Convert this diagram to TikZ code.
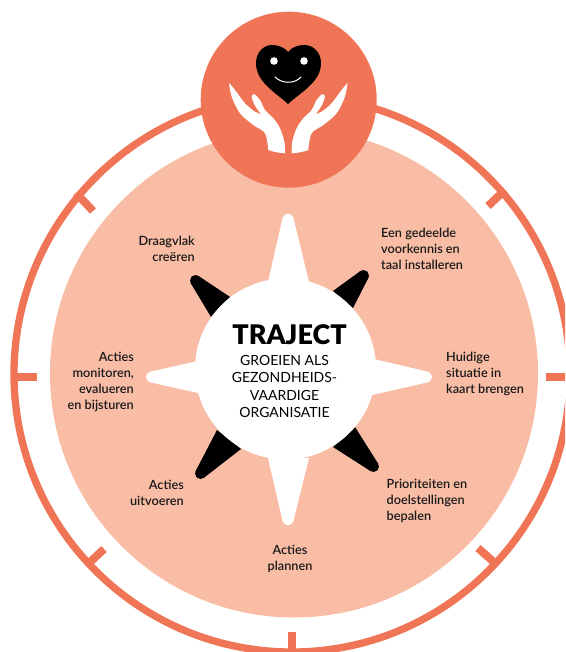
\documentclass[tikz,border=0pt]{standalone}
\usepackage{fontspec}
\usetikzlibrary{calc}
\setmainfont{Lato}[BoldFont=* Semibold]
\newfontfamily\heavyfont{Lato Black}
\definecolor{coral}{HTML}{F07556}
\definecolor{peach}{HTML}{F9BDA6}
\newcommand{\spikeshape}[5]{% colour, tip, base1, base2, tip radius
  \fill[#1] (#2) circle[radius=#5pt];
  \fill[#1] (#3) -- ($(#2)!#5pt!90:(#3)$) -- ($(#2)!#5pt!-90:(#4)$) -- (#4) -- cycle;
}
\tikzset{
  ringline/.style={coral,line width=7.3pt},
  tick/.style={coral,line width=8pt},
  lbl/.style={inner sep=0pt,font=\fontsize{12.7pt}{16pt}\selectfont\bfseries,text=black!90},
  lblL/.style={lbl,anchor=west,align=left},
  lblR/.style={lbl,anchor=east,align=right},
  lblC/.style={lbl,anchor=center,align=center},
  hand/.style={white}
}
\newcommand{\handshape}{%
  \fill[hand] plot[smooth,tension=.55] coordinates {(229,83) (231.7,96.7) (240,113.3) (253.3,125) (265,133.3) (268.3,150)}
    .. controls (273,151.8) and (279,153) .. (285,153.3)
    -- plot[smooth,tension=.55] coordinates {(285,153.3) (284.3,141.7) (280,128.3) (273.3,118.3) (265,110) (260,100) (254.3,94.3) (251.7,96.7) (255,105.7) (261,114)}
    -- plot[smooth,tension=.55] coordinates {(261,114) (255,111.7) (245,103.3) (235,90) (229,83)} -- cycle;
}
\begin{document}
\begin{tikzpicture}[x=1pt,y=-1pt]
\useasboundingbox (0,0) rectangle (565,652);
\clip (0,0) rectangle (565,652);
% outer ring and ticks
\coordinate (ringc) at (292,374);
\draw[ringline] (ringc) circle[radius=278pt];
\draw[tick] (12,376.5) -- (37,376.5);
\draw[tick] (546,376.5) -- (570,376.5);
\draw[tick] (292,632) -- (292,650);
\draw[tick] (76,193) -- (93,211);
\draw[tick] (505,190) -- (488,206);
\draw[tick] (88,564) -- (104,549);
\draw[tick] (497,565) -- (478,548);
% disc
\fill[peach] (294,373.5) circle[radius=244pt];
% black spikes
\spikeshape{black}{195.5,280.5}{230,297}{211,317}{5.5}
\spikeshape{black}{363.5,275.5}{353,308}{333,291}{5.5}
\spikeshape{black}{373.5,466.5}{333,447}{355,427}{5.5}
\spikeshape{black}{200.5,473.5}{217,430}{241,449}{5.5}
% white hub and spikes
\fill[white] (285.5,369) circle[radius=90.5pt];
\spikeshape{white}{288,219}{309,282}{268,282}{5.5}
\spikeshape{white}{288,520}{268,458}{309,458}{5.5}
\spikeshape{white}{151.5,377}{198,361}{198,393}{5.5}
\spikeshape{white}{426.5,377}{372,395}{374,359}{5.5}
% top badge
\fill[coral] (288.7,99.7) circle[radius=88pt];
% heart
\fill[black] (288,104) .. controls (275,92) and (256,82) .. (256,63)
  .. controls (256,52) and (264,45) .. (272,45)
  .. controls (279,45) and (285,48) .. (288,52)
  .. controls (291,48) and (297,45) .. (304,45)
  .. controls (313,45) and (321,52) .. (321,63)
  .. controls (321,82) and (301,92) .. (288,104) -- cycle;
\fill[white] (274,61) circle[radius=3.8pt];
\fill[white] (304,61) circle[radius=3.8pt];
\draw[white,line width=1pt,line cap=round] (275,77) .. controls (282,84) and (295,84) .. (301,77);
% hands
\handshape
\begin{scope}[shift={(576.6,0)},xscale=-1]
\handshape
\end{scope}
% centre text
\node[inner sep=0pt,anchor=center,font=\heavyfont\fontsize{27pt}{27pt}\selectfont] (title) at (289.5,335) {TRAJECT};
\node[inner sep=0pt,anchor=center,align=center,font=\fontsize{14pt}{17.4pt}\selectfont] (sub) at (284.5,386.5) {GROEIEN ALS\\GEZONDHEIDS-\\VAARDIGE\\ORGANISATIE};
% step labels
\node[lblR] (draagvlak) at (195,249) {Draagvlak\\creëren};
\node[lblL] (gedeeld) at (381,249) {Een gedeelde\\voorkennis en\\taal installeren};
\node[lblL] (huidig) at (446,374) {Huidige\\situatie in\\kaart brengen};
\node[lblL] (prior) at (386.5,501) {Prioriteiten en\\doelstellingen\\bepalen};
\node[lblC] (plan) at (290,559) {Acties\\plannen};
\node[lblR] (uit) at (184,493) {Acties\\uitvoeren};
\node[lblR] (mon) at (134,382) {Acties\\monitoren,\\evalueren\\en bijsturen};
\end{tikzpicture}
\end{document}
